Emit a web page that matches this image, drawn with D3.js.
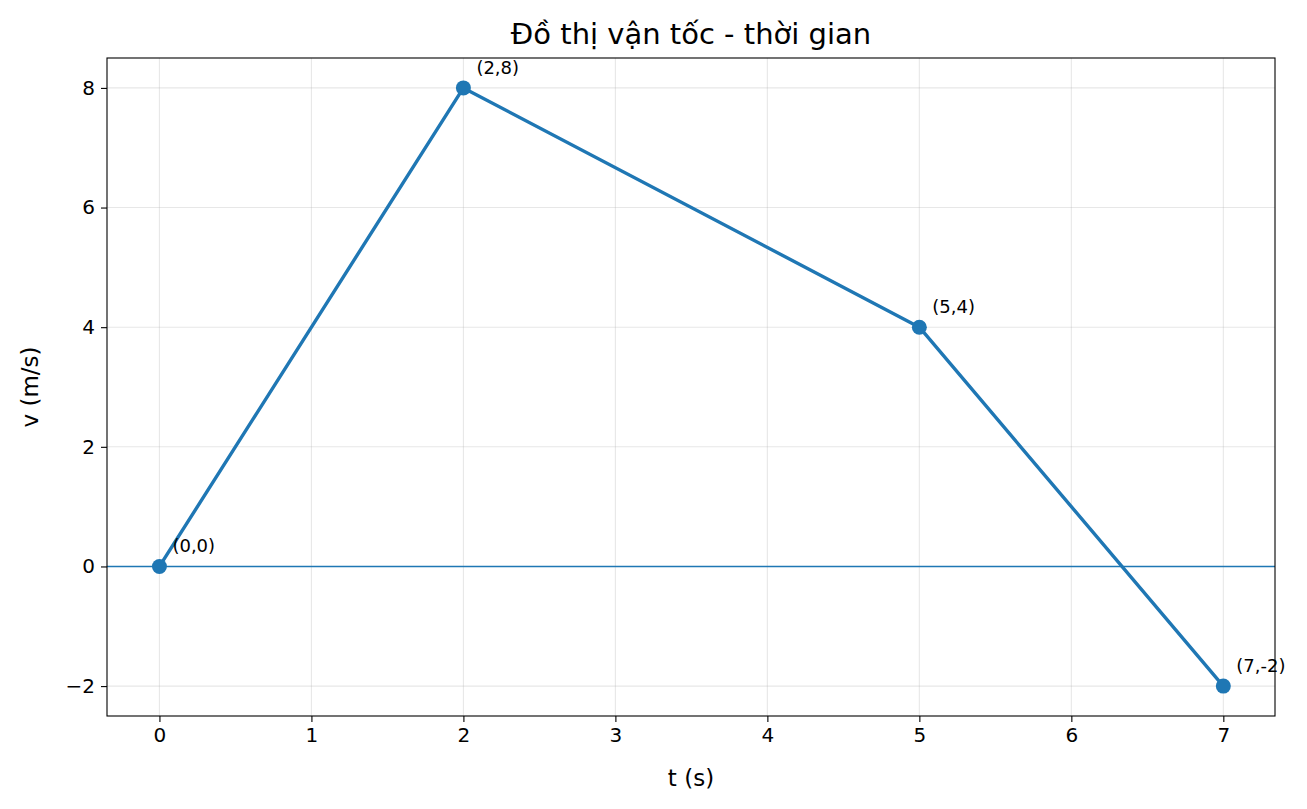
<!DOCTYPE html>
<html><head><meta charset="utf-8">
<script src="https://cdn.jsdelivr.net/npm/d3@7"></script>
<style>
body{margin:0;background:#fff}
text{font-family:"DejaVu Sans",sans-serif}
</style></head>
<body>
<script>
let tValues = [0, 2, 5, 7];
let vValues = [0, 8, 4, -2];
let pointLabels = ['(0,0)', '(2,8)', '(5,4)', '(7,-2)'];
let xTicks = [0, 1, 2, 3, 4, 5, 6, 7];
let yTicks = [-2, 0, 2, 4, 6, 8];

let width = 1307, height = 809;
let margin = {left:107, right:32, top:58, bottom:93};
let w = width - margin.left - margin.right,
    h = height - margin.top - margin.bottom;
let blue = '#1f77b4';

let x = d3.scaleLinear().domain([-0.345, 7.34]).range([0, w]);
let y = d3.scaleLinear().domain([-2.5, 8.5]).range([h, 0]);

let svg = d3.select('body').append('svg')
    .attr('width', width).attr('height', height);
let g = svg.append('g').attr('transform', `translate(${margin.left},${margin.top})`);

// grid
g.selectAll('.gx').data(xTicks).join('line')
    .attr('x1', d => x(d)).attr('x2', d => x(d)).attr('y1', 0).attr('y2', h)
    .attr('stroke', '#b0b0b0').attr('stroke-opacity', 0.3).attr('stroke-width', 1.1);
g.selectAll('.gy').data(yTicks).join('line')
    .attr('y1', d => y(d)).attr('y2', d => y(d)).attr('x1', 0).attr('x2', w)
    .attr('stroke', '#b0b0b0').attr('stroke-opacity', 0.3).attr('stroke-width', 1.1);

// zero line
g.append('line').attr('x1', 0).attr('x2', w).attr('y1', y(0)).attr('y2', y(0))
    .attr('stroke', blue).attr('stroke-width', 1.6);

let xAxis = d3.axisBottom(x).tickValues(xTicks).tickSize(6).tickPadding(6).tickFormat(d3.format('d'));
let yAxis = d3.axisLeft(y).tickValues(yTicks).tickSize(6).tickPadding(6)
    .tickFormat(d => d < 0 ? '\u2212' + Math.abs(d) : d);

g.append('g').attr('transform', `translate(0,${h})`).call(xAxis)
    .call(s => s.select('.domain').remove())
    .selectAll('text').attr('font-size', 20).attr('fill', '#000');
g.append('g').call(yAxis)
    .call(s => s.select('.domain').remove())
    .selectAll('text').attr('font-size', 20).attr('fill', '#000');
g.selectAll('.tick line').attr('stroke', '#000').attr('stroke-width', 1.1);

// line
let line = d3.line().x((d, i) => x(tValues[i])).y(d => y(d));
g.append('path').attr('d', line(vValues)).attr('fill', 'none')
    .attr('stroke', blue).attr('stroke-width', 3.4).attr('stroke-linejoin', 'round');

g.selectAll('.pt').data(vValues).join('circle')
    .attr('cx', (d, i) => x(tValues[i])).attr('cy', d => y(d)).attr('r', 7.5).attr('fill', blue);

g.selectAll('.lbl').data(vValues).join('text')
    .attr('x', (d, i) => x(tValues[i]) + 13).attr('y', d => y(d) - 14)
    .attr('font-size', 18).text((d, i) => pointLabels[i]);

// frame
g.append('rect').attr('width', w).attr('height', h).attr('fill', 'none')
    .attr('stroke', '#000').attr('stroke-width', 1.1);

svg.append('text').attr('x', margin.left + w / 2).attr('y', 44).attr('text-anchor', 'middle')
    .attr('font-size', 29).text('Đồ thị vận tốc - thời gian');
svg.append('text').attr('x', margin.left + w / 2).attr('y', 786).attr('text-anchor', 'middle')
    .attr('font-size', 23).text('t (s)');
svg.append('text').attr('transform', `translate(38,${margin.top + h / 2}) rotate(-90)`)
    .attr('text-anchor', 'middle').attr('font-size', 23).text('v (m/s)');
</script>
</body></html>
